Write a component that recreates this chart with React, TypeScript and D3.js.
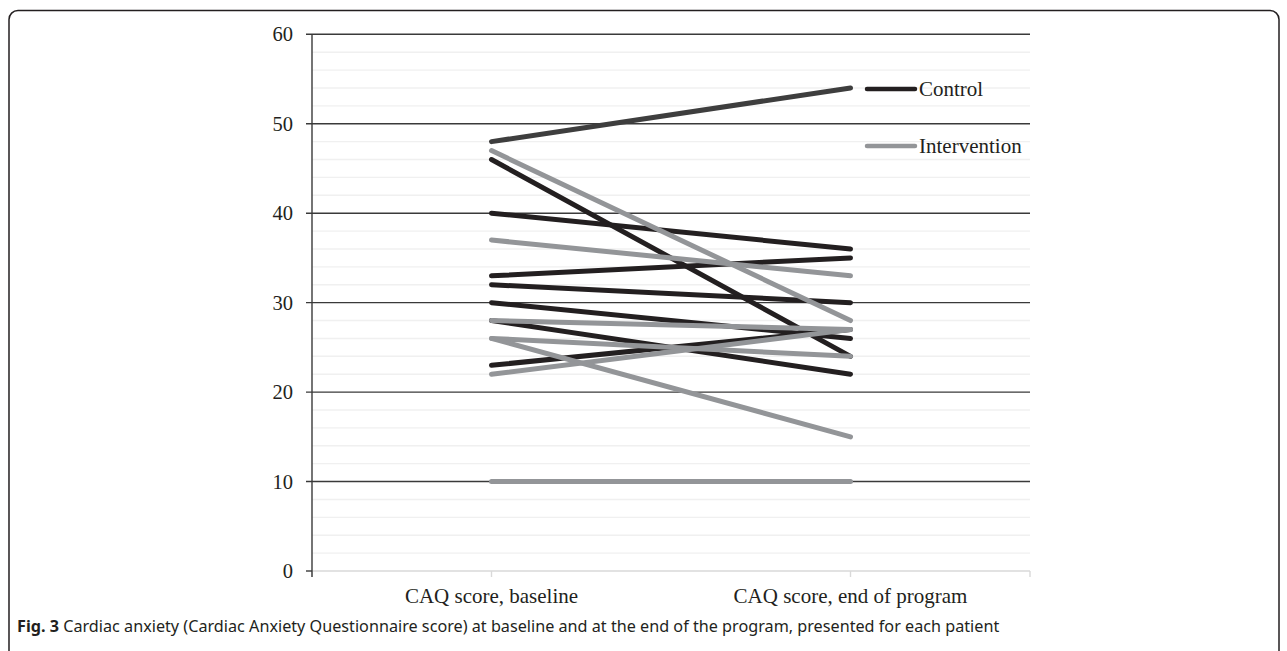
import React from "react";
import * as d3 from "d3";

const categories = ["CAQ score, baseline", "CAQ score, end of program"];
const yTicks = [0, 10, 20, 30, 40, 50, 60];
// control patients: [baseline, end of program]
const controlSeries: number[][] = [
  [48, 54],
  [46, 24],
  [40, 36],
  [33, 35],
  [32, 30],
  [30, 26],
  [28, 22],
  [23, 27],
];
// intervention patients: [baseline, end of program]
const interventionSeries: number[][] = [
  [47, 28],
  [37, 33],
  [28, 27],
  [26, 24],
  [26, 15],
  [22, 27],
  [10, 10],
];
const legendLabels = ["Control", "Intervention"];
const caption =
  " Cardiac anxiety (Cardiac Anxiety Questionnaire score) at baseline and at the end of the program, presented for each patient";

const W = 1287;
const H = 651;
const left = 312;
const right = 1030;
const top = 34.3;
const bottom = 571;
const BLACK = "#231f20";
const GRAY = "#939598";
const DARK = "#3e3e3e";
const serif = "'Liberation Serif', 'Times New Roman', serif";

export default function App() {
  const x = d3.scalePoint<string>().domain(categories).range([left, right]).padding(0.5);
  const y = d3.scaleLinear().domain([0, 60]).range([bottom, top]);
  const line = d3
    .line<number>()
    .x((_, i) => x(categories[i]) as number)
    .y((d) => y(d));
  const minor = d3.range(2, 60, 2).filter((v) => v % 10 !== 0);

  return (
    <svg
      width={W}
      height={H}
      style={{ position: "absolute", left: 0, top: 0, background: "#fff" }}
    >
      <rect x={9} y={10.5} width={1270} height={660} rx={9} fill="none" stroke={BLACK} strokeWidth={1.5} />
      {minor.map((v) => (
        <line key={"m" + v} x1={left} x2={right} y1={y(v)} y2={y(v)} stroke="#f0f0f0" strokeWidth={1.4} />
      ))}
      {yTicks.filter((v) => v > 0).map((v) => (
        <line key={"g" + v} x1={left - 6} x2={right} y1={y(v)} y2={y(v)} stroke="#3a3a3a" strokeWidth={1.4} />
      ))}
      <line x1={left} x2={right} y1={bottom} y2={bottom} stroke="#d9d9d9" strokeWidth={1.4} />
      {[left, x(categories[0]) as number, x(categories[1]) as number, right].map((t, i) => (
        <line key={"xt" + i} x1={t} x2={t} y1={bottom} y2={bottom + 6} stroke="#d9d9d9" strokeWidth={1.4} />
      ))}
      <line x1={left} x2={left} y1={top} y2={bottom + 6} stroke="#3a3a3a" strokeWidth={1.4} />
      <line x1={left - 6} x2={left} y1={bottom} y2={bottom} stroke="#3a3a3a" strokeWidth={1.4} />
      {yTicks.map((v) => (
        <text key={"yl" + v} x={293} y={y(v)} dy="0.35em" textAnchor="end" fontFamily={serif} fontSize={20.5} fill={BLACK}>
          {v}
        </text>
      ))}
      {categories.map((c) => (
        <text key={c} x={x(c) as number} y={603} textAnchor="middle" fontFamily={serif} fontSize={21} fill={BLACK}>
          {c}
        </text>
      ))}
      {controlSeries.map((d, i) => (
        <path key={"c" + i} d={line(d) as string} fill="none" stroke={i === 0 ? DARK : BLACK} strokeWidth={5} strokeLinecap="round" />
      ))}
      {interventionSeries.map((d, i) => (
        <path key={"i" + i} d={line(d) as string} fill="none" stroke={GRAY} strokeWidth={5} strokeLinecap="round" />
      ))}
      {legendLabels.map((l, i) => {
        const ly = i === 0 ? 89 : 146;
        return (
          <g key={l}>
            <line x1={867} x2={915} y1={ly} y2={ly} stroke={i === 0 ? BLACK : GRAY} strokeWidth={4.5} strokeLinecap="round" />
            <text x={919} y={ly} dy="0.33em" fontFamily={serif} fontSize={21} fill={BLACK}>
              {l}
            </text>
          </g>
        );
      })}
      <text x={17} y={632} fontFamily="'Noto Sans', 'Open Sans', sans-serif" fontSize={16.2} fill={BLACK}>
        <tspan fontWeight="bold">Fig. 3</tspan>
        <tspan>{caption}</tspan>
      </text>
    </svg>
  );
}
